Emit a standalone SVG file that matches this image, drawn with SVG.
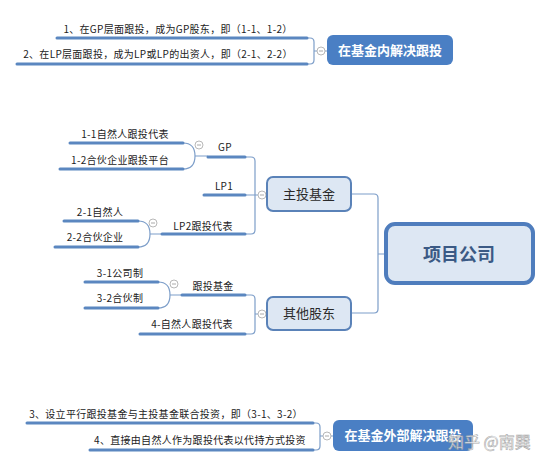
<svg xmlns="http://www.w3.org/2000/svg" width="549" height="467" viewBox="0 0 549 467">
<style>
text{font-family:"Noto Sans CJK SC","Noto Sans",sans-serif;fill:#222;}
.lbl{font-size:10px;text-anchor:middle;letter-spacing:0.3px;}
.ul{stroke:#5b87c0;stroke-width:3;stroke-linecap:round;fill:none;}
.cn{stroke:#7d9ec9;stroke-width:1.2;fill:none;}
.col circle{fill:#fff;stroke:#b0b0b0;stroke-width:0.9;}
.col line{stroke:#a0a0a0;stroke-width:0.9;}
.bbox{fill:#4a7fc4;}
.btxt{font-size:13px;font-weight:bold;fill:#fff;text-anchor:middle;}
.mbox{fill:#dde7f3;stroke:#5a82b8;stroke-width:2;}
.mtxt{font-size:13px;fill:#2a2a2a;text-anchor:middle;}
</style>
<rect width="549" height="467" fill="#fff"/>
<g id="connectors">
<path class="cn" d="M307,38 H310 Q314,38 314,42 V60 Q314,64 310,64 H307 M314,51 H317 M325,51 H327"/>
<path class="cn" d="M313,423 H316 Q320,423 320,427 V446 Q320,450 316,450 H313 M320,436 H323 M331,436 H333"/>
<path class="cn" d="M183,143 Q195,143 195,156 Q195,169 183,169 M195,156 H208"/>
<path class="cn" d="M138,221 Q150,221 150,234 Q150,247 138,247 M150,234 H162"/>
<path class="cn" d="M158,282 Q170,282 170,295 Q170,308 158,308 M170,295 H182"/>
<path class="cn" d="M245,157 H251 Q255,157 255,161 V230 Q255,234 251,234 H245 M245,195 H258 M266,195 H267"/>
<path class="cn" d="M245,295 H251 Q255,295 255,299 V330 Q255,334 251,334 H245 M255,314 H258 M266,314 H267"/>
<path class="cn" d="M351,194 H374 Q378,194 378,198 V309 Q378,313 374,313 H351 M378,254 H386"/>
</g>
<g id="collapse" class="col">
<circle cx="321" cy="51" r="4"/><line x1="319" y1="51" x2="323" y2="51"/>
<circle cx="327" cy="436" r="4"/><line x1="325" y1="436" x2="329" y2="436"/>
<circle cx="199" cy="145" r="4"/><line x1="197" y1="145" x2="201" y2="145"/>
<circle cx="153" cy="223" r="4"/><line x1="151" y1="223" x2="155" y2="223"/>
<circle cx="174" cy="284" r="4"/><line x1="172" y1="284" x2="176" y2="284"/>
<circle cx="262" cy="195" r="4"/><line x1="260" y1="195" x2="264" y2="195"/>
<circle cx="262" cy="314" r="4"/><line x1="260" y1="314" x2="264" y2="314"/>
</g>
<g id="n-t1"><line class="ul" x1="57" y1="38" x2="307" y2="38"/><text class="lbl" x="178" y="33">1、在GP层面跟投，成为GP股东，即（1-1、1-2）</text></g>
<g id="n-t2"><line class="ul" x1="17" y1="64" x2="307" y2="64"/><text class="lbl" x="158" y="58">2、在LP层面跟投，成为LP或LP的出资人，即（2-1、2-2）</text></g>
<g id="n-inside"><rect class="bbox" x="327" y="35" width="126" height="30" rx="6"/><text class="btxt" x="390" y="55">在基金内解决跟投</text></g>
<g id="n-t3"><line class="ul" x1="27" y1="423" x2="313" y2="423"/><text class="lbl" x="166" y="418">3、设立平行跟投基金与主投基金联合投资，即（3-1、3-2）</text></g>
<g id="n-t4"><line class="ul" x1="90" y1="450" x2="313" y2="450"/><text class="lbl" x="200" y="444">4、直接由自然人作为跟投代表以代持方式投资</text></g>
<g id="n-outside"><rect class="bbox" x="333" y="420" width="140" height="31" rx="6"/><text class="btxt" x="403" y="440">在基金外部解决跟投</text></g>
<g id="n-11"><line class="ul" x1="70" y1="143" x2="183" y2="143"/><text class="lbl" x="125" y="138">1-1自然人跟投代表</text></g>
<g id="n-12"><line class="ul" x1="60" y1="169" x2="183" y2="169"/><text class="lbl" x="120" y="164">1-2合伙企业跟投平台</text></g>
<g id="n-gp"><line class="ul" x1="208" y1="157" x2="245" y2="157"/><text class="lbl" x="225" y="151">GP</text></g>
<g id="n-lp1"><line class="ul" x1="204" y1="195" x2="245" y2="195"/><text class="lbl" x="224" y="190">LP1</text></g>
<g id="n-21"><line class="ul" x1="64" y1="221" x2="138" y2="221"/><text class="lbl" x="100" y="216">2-1自然人</text></g>
<g id="n-22"><line class="ul" x1="55" y1="247" x2="138" y2="247"/><text class="lbl" x="95" y="241">2-2合伙企业</text></g>
<g id="n-lp2"><line class="ul" x1="162" y1="234" x2="245" y2="234"/><text class="lbl" x="203" y="230">LP2跟投代表</text></g>
<g id="n-31"><line class="ul" x1="85" y1="282" x2="158" y2="282"/><text class="lbl" x="120" y="277">3-1公司制</text></g>
<g id="n-32"><line class="ul" x1="85" y1="308" x2="158" y2="308"/><text class="lbl" x="120" y="302">3-2合伙制</text></g>
<g id="n-gtjj"><line class="ul" x1="182" y1="295" x2="245" y2="295"/><text class="lbl" x="213" y="290">跟投基金</text></g>
<g id="n-4"><line class="ul" x1="140" y1="334" x2="245" y2="334"/><text class="lbl" x="192" y="328">4-自然人跟投代表</text></g>
<g id="n-main"><rect class="mbox" x="267" y="177" width="84" height="34" rx="6"/><text class="mtxt" x="309" y="199">主投基金</text></g>
<g id="n-other"><rect class="mbox" x="267" y="297" width="84" height="33" rx="6"/><text class="mtxt" x="309" y="318">其他股东</text></g>
<g id="n-company"><rect x="386" y="224" width="147" height="59" rx="9" fill="#dde7f3" stroke="#4f7dbd" stroke-width="4"/><text x="459" y="261" style="font-size:18px;font-weight:bold;fill:#3b5a85;text-anchor:middle">项目公司</text></g>
<text x="448" y="448" style="font-size:16px;fill:#fff;stroke:#9a9a9a;stroke-width:0.6;opacity:0.85">知乎 @南巽</text>
</svg>
